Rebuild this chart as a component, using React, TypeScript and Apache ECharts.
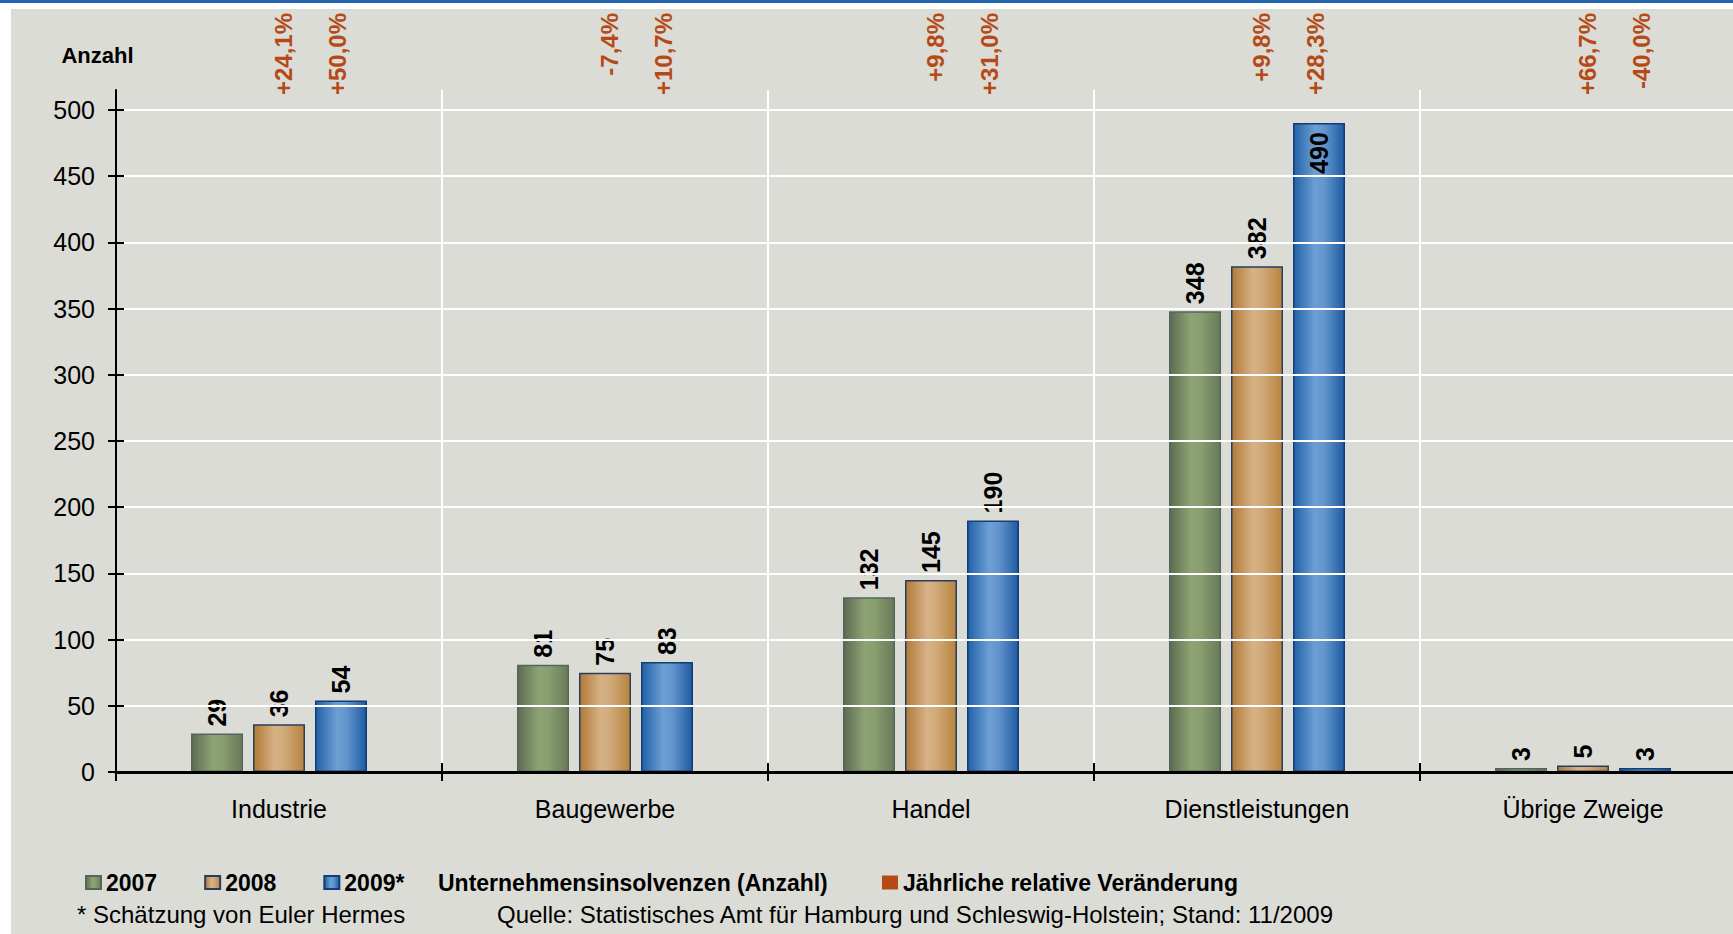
import React, { useEffect, useRef } from 'react';
import * as echarts from 'echarts';

// Sector breakdown of company insolvencies
const categories = ['Industrie', 'Baugewerbe', 'Handel', 'Dienstleistungen', 'Übrige Zweige'];
const values2007 = [29, 81, 132, 348, 3];
const values2008 = [36, 75, 145, 382, 5];
const values2009 = [54, 83, 190, 490, 3];

// Year-on-year relative change in percent (2008 vs 2007, 2009 vs 2008)
const change2008 = [24.1, -7.4, 9.8, 9.8, 66.7];
const change2009 = [50.0, 10.7, 31.0, 28.3, -40.0];

// Value-axis tick labels
const yTicks = [0, 50, 100, 150, 200, 250, 300, 350, 400, 450, 500];
const Y_MAX = 515;

const FONT = '"Liberation Sans", Arial, Helvetica, sans-serif';
const PCT_COLOR = '#b64a17';
const BAR_WIDTH = 52;
const BAR_GAP = 10;
const PCT_SPACING = 54;
const PCT_LIFT = 77;
const INSIDE_LABEL_FROM = 450;

const gradient = (stops: [number, string][]) => ({
  type: 'linear',
  x: 0,
  y: 0,
  x2: 1,
  y2: 0,
  colorStops: stops.map(([offset, color]) => ({ offset, color })),
});

const GREEN = gradient([
  [0, '#5c6c52'],
  [0.42, '#8ea374'],
  [0.6, '#8a9f71'],
  [1, '#687a58'],
]);
const ORANGE = gradient([
  [0, '#b07a38'],
  [0.42, '#d6b286'],
  [0.6, '#d1aa7a'],
  [1, '#b7843e'],
]);
const BLUE = gradient([
  [0, '#2260a8'],
  [0.42, '#6c9fd4'],
  [0.6, '#6396cd'],
  [1, '#1f5ba3'],
]);

const fmtPct = (v: number) => (v >= 0 ? '+' : '') + v.toFixed(1).replace('.', ',') + '%';

const labelAbove = {
  show: true,
  position: 'top',
  distance: 7,
  rotate: 90,
  align: 'left',
  verticalAlign: 'middle',
  fontSize: 25,
  fontWeight: 'bold',
  fontFamily: FONT,
  color: '#000',
};

const labelInside = {
  ...labelAbove,
  position: 'insideTop',
  distance: 9,
  align: 'right',
};

const barData = (values: number[]) =>
  values.map((v) => (v >= INSIDE_LABEL_FROM ? { value: v, label: labelInside } : v));

const barSeries = (name: string, values: number[], color: any, border: string) => ({
  name,
  type: 'bar',
  xAxisIndex: 0,
  yAxisIndex: 0,
  barWidth: BAR_WIDTH,
  barGap: `${(BAR_GAP / BAR_WIDTH) * 100}%`,
  data: barData(values),
  itemStyle: { color, borderColor: border, borderWidth: 1.5 },
  label: labelAbove,
  z: 3,
});

// Horizontal grid colours: a line at the axis maximum (above 500) stays invisible
const splitColors = [...yTicks.map(() => '#ffffff'), 'rgba(0,0,0,0)'];

const legendText = { fontSize: 23, fontWeight: 'bold', color: '#000', fontFamily: FONT };

export default function App() {
  const ref = useRef<HTMLDivElement>(null);

  useEffect(() => {
    if (!ref.current) return;
    const chart = echarts.init(ref.current, null, { renderer: 'svg' });

    const pctData = categories.map((_, i) => [i, change2008[i], change2009[i]]);

    chart.setOption({
      animation: false,
      backgroundColor: 'transparent',
      grid: { left: 116, top: 90, right: 4, bottom: 162, containLabel: false },
      xAxis: [
        {
          type: 'category',
          data: categories,
          position: 'bottom',
          axisLine: { show: true, lineStyle: { color: '#000', width: 3 } },
          axisTick: { show: true, interval: 0, length: 9, lineStyle: { color: '#000', width: 2 } },
          axisLabel: { interval: 0, fontSize: 25, color: '#000', margin: 24, fontFamily: FONT },
          splitLine: { show: true, interval: 0, lineStyle: { color: '#ffffff', width: 2 } },
          z: 5,
        },
        {
          // inner half of the crossing category ticks
          type: 'category',
          data: categories,
          position: 'bottom',
          offset: 0,
          axisLine: { show: false },
          axisTick: { show: true, inside: true, interval: 0, length: 9, lineStyle: { color: '#000', width: 2 } },
          axisLabel: { show: false },
          splitLine: { show: false },
          z: 5,
        },
      ],
      yAxis: [
        {
          type: 'value',
          min: 0,
          max: Y_MAX,
          interval: 50,
          name: 'Anzahl',
          nameLocation: 'end',
          nameGap: 24,
          nameTextStyle: {
            fontSize: 22,
            fontWeight: 'bold',
            color: '#000',
            fontFamily: FONT,
            align: 'center',
            padding: [0, 37, 0, 0],
          },
          axisLine: { show: true, lineStyle: { color: '#000', width: 2 } },
          axisTick: { show: true, length: 8, customValues: yTicks, lineStyle: { color: '#000', width: 2 } },
          axisLabel: {
            customValues: yTicks,
            fontSize: 25,
            color: '#000',
            margin: 21,
            fontFamily: FONT,
          },
          splitLine: { show: true, lineStyle: { color: splitColors, width: 2 } },
          z: 5,
        },
        {
          // inner half of the crossing value ticks
          type: 'value',
          min: 0,
          max: Y_MAX,
          interval: 50,
          position: 'left',
          offset: 0,
          axisLine: { show: false },
          axisTick: { show: true, inside: true, length: 8, customValues: yTicks, lineStyle: { color: '#000', width: 2 } },
          axisLabel: { show: false },
          splitLine: { show: false },
          z: 5,
        },
      ],
      legend: [
        {
          data: ['2007', '2008', '2009*'],
          left: 85,
          top: 871,
          padding: 0,
          icon: 'rect',
          itemWidth: 15,
          itemHeight: 13,
          itemGap: 47,
          selectedMode: false,
          textStyle: legendText,
        },
        {
          data: ['Jährliche relative Veränderung'],
          left: 882,
          top: 871,
          padding: 0,
          icon: 'rect',
          itemWidth: 16,
          itemHeight: 14,
          selectedMode: false,
          textStyle: legendText,
        },
      ],
      graphic: [
        {
          type: 'text',
          left: 438,
          top: 871,
          style: { text: 'Unternehmensinsolvenzen (Anzahl)', font: `bold 23px ${FONT}`, fill: '#000' },
        },
        {
          type: 'text',
          left: 77,
          top: 902,
          style: { text: '* Schätzung von Euler Hermes', font: `24px ${FONT}`, fill: '#000' },
        },
        {
          type: 'text',
          left: 497,
          top: 902,
          style: {
            text: 'Quelle: Statistisches Amt für Hamburg und Schleswig-Holstein; Stand: 11/2009',
            font: `24px ${FONT}`,
            fill: '#000',
          },
        },
      ],
      series: [
        barSeries('2007', values2007, GREEN, '#56655c'),
        barSeries('2008', values2008, ORANGE, '#2a3d5c'),
        barSeries('2009*', values2009, BLUE, '#123d75'),
        {
          name: 'Jährliche relative Veränderung',
          type: 'custom',
          xAxisIndex: 0,
          yAxisIndex: 0,
          dimensions: ['cat', 'c2008', 'c2009'],
          encode: { x: 0, y: 1 },
          itemStyle: { color: PCT_COLOR },
          clip: false,
          data: pctData,
          renderItem: (_params: any, api: any) => {
            const idx = api.value(0);
            const pt = api.coord([idx, Y_MAX]);
            const mid = pt[0] + (BAR_WIDTH + BAR_GAP) / 2;
            const y = pt[1] - PCT_LIFT;
            const mk = (x: number, v: number) => ({
              type: 'text',
              x,
              y,
              rotation: Math.PI / 2,
              style: {
                text: fmtPct(v),
                fill: PCT_COLOR,
                font: `bold 24px ${FONT}`,
                align: 'right',
                verticalAlign: 'middle',
              },
            });
            return {
              type: 'group',
              children: [mk(mid - PCT_SPACING / 2, api.value(1)), mk(mid + PCT_SPACING / 2, api.value(2))],
            };
          },
          z: 4,
        },
      ],
    });

    return () => chart.dispose();
  }, []);

  return (
    <div
      style={{
        position: 'absolute',
        left: 0,
        top: 0,
        width: 1733,
        height: 934,
        overflow: 'hidden',
        background: '#ffffff',
      }}
    >
      <div style={{ position: 'absolute', left: 0, top: 0, width: 1733, height: 3, background: '#2466b0' }} />
      <div style={{ position: 'absolute', left: 11, top: 9, right: 0, bottom: 0, background: '#dcdcd7' }} />
      <div ref={ref} style={{ position: 'absolute', left: 0, top: 0, width: 1750, height: 934 }} />
    </div>
  );
}
